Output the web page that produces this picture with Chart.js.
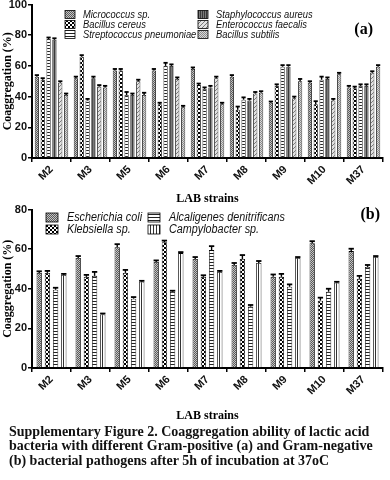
<!DOCTYPE html>
<html>
<head>
<meta charset="utf-8">
<script src="https://cdn.jsdelivr.net/npm/chart.js@4.4.1/dist/chart.umd.min.js"></script>
<style>
  body { margin: 0; background: #fff; }
  #wrap { position: relative; width: 390px; height: 480px; overflow: hidden; }
  .box { position: absolute; left: 0; width: 390px; }
  #boxA { top: -2px; height: 210px; }
  #boxB { top: 203px; height: 222px; }
  #caption {
    position: absolute; left: 9px; top: 425px; width: 381px;
    font: bold 14px "Liberation Serif", "Times New Roman", serif;
    line-height: 14.3px; color: #111;
  }
</style>
</head>
<body>
<div id="wrap">
  <div class="box" id="boxA"><canvas id="chartA"></canvas></div>
  <div class="box" id="boxB"><canvas id="chartB"></canvas></div>
  <div id="caption">Supplementary Figure 2. Coaggregation ability of lactic acid bacteria with different Gram-positive (a) and Gram-negative (b) bacterial pathogens after 5h of incubation at 37oC</div>
</div>
<script>
// LAB strains on the x axis (both panels)
const strains = ['M2', 'M3', 'M5', 'M6', 'M7', 'M8', 'M9', 'M10', 'M37'];

// (a) Gram-positive pathogens, coaggregation %
const micrococcus = [53, 52, 57, 57, 58, 53, 36, 49, 46];
const bacillusCereus = [51, 66, 57, 35, 47.5, 31.5, 47, 35, 45.5];
const streptococcus = [77.5, 37.5, 41, 60, 45, 38, 59.5, 51, 47];
const staphylococcus = [77, 52, 41, 60, 46, 37.5, 59.5, 51.5, 47];
const enterococcus = [49, 46.5, 50, 51.5, 52, 42, 39, 37.5, 55.5];
const bacillusSubtilis = [41, 46, 41, 33, 35, 42.5, 50, 54.5, 59.5];

const micrococcusErr = [1, 1, 1, 1, 1, 1, 0.8, 1, 1];
const bacillusCereusErr = [1, 1, 1, 1, 1, 2, 1, 2, 1];
const streptococcusErr = [1, 1, 2, 2, 1, 1.5, 1, 2, 1];
const staphylococcusErr = [1, 1, 1, 1, 1, 1, 1, 1, 1];
const enterococcusErr = [1, 1, 1, 1, 1, 1, 1, 1, 1];
const bacillusSubtilisErr = [1, 1, 1.5, 1, 1, 1, 1.5, 1, 1];

// (b) Gram-negative pathogens, coaggregation %
const ecoli = [48, 55.5, 61, 53.5, 55, 52, 46, 63, 59];
const klebsiella = [48, 46, 48, 63.5, 46, 55, 46, 34, 45];
const alcaligenes = [39.5, 46.5, 35, 38.5, 59.5, 31, 41, 38.5, 51];
const campylobacter = [47, 27, 43.5, 58, 48.5, 53, 55.5, 43, 56];

const ecoliErr = [0.8, 1, 1.5, 0.8, 1, 1, 1.2, 1, 1.2];
const klebsiellaErr = [1, 1, 1.5, 0.8, 0.8, 2, 1.5, 1.5, 1.5];
const alcaligenesErr = [1, 2, 0.8, 0.5, 2, 0.8, 1.2, 1.5, 1];
const campylobacterErr = [0.5, 0.5, 0.5, 0.5, 0.5, 1, 0.5, 0.5, 0.5];

const yTicksA = [0, 20, 40, 60, 80, 100];
const yTicksB = [0, 20, 40, 60, 80];

// small tiles used as bar fills
function makePattern(w, h, draw) {
    const c = document.createElement('canvas');
    c.width = w;
    c.height = h;
    const g = c.getContext('2d');
    draw(g);
    return g.createPattern(c, 'repeat');
}

const grayDots = makePattern(2, 2, g => {
    g.fillStyle = '#c4c4c4'; g.fillRect(0, 0, 2, 2);
    g.fillStyle = '#5a5a5a'; g.fillRect(0, 0, 1, 1); g.fillRect(1, 1, 1, 1);
});
const checker = makePattern(4, 4, g => {
    g.fillStyle = '#fff'; g.fillRect(0, 0, 4, 4);
    g.fillStyle = '#000'; g.fillRect(0, 0, 2, 2); g.fillRect(2, 2, 2, 2);
});
const hStripes = makePattern(1, 3, g => {
    g.fillStyle = '#fff'; g.fillRect(0, 0, 1, 3);
    g.fillStyle = '#222'; g.fillRect(0, 2, 1, 1);
});
const darkVert = makePattern(2, 1, g => {
    g.fillStyle = '#3a3a3a'; g.fillRect(0, 0, 2, 1);
    g.fillStyle = '#7a7a7a'; g.fillRect(1, 0, 1, 1);
});
const diagHatch = makePattern(4, 4, g => {
    g.fillStyle = '#e2e2e2'; g.fillRect(0, 0, 4, 4);
    g.fillStyle = '#7a7a7a';
    g.fillRect(0, 3, 1, 1); g.fillRect(1, 2, 1, 1); g.fillRect(2, 1, 1, 1); g.fillRect(3, 0, 1, 1);
});
const lightCross = makePattern(2, 2, g => {
    g.fillStyle = '#d8d8d8'; g.fillRect(0, 0, 2, 2);
    g.fillStyle = '#8c8c8c'; g.fillRect(0, 0, 1, 1); g.fillRect(1, 1, 1, 1);
});
const vStripes = makePattern(3, 1, g => {
    g.fillStyle = '#fff'; g.fillRect(0, 0, 3, 1);
    g.fillStyle = '#333'; g.fillRect(0, 0, 1, 1);
});

function ds(label, data, err, fill) {
    return {
        label: label,
        data: data,
        err: err,
        backgroundColor: fill,
        borderColor: '#000',
        borderWidth: 0.8
    };
}

// error bars (mean + SEM) drawn on top of each bar
const errorBars = {
    id: 'errorBars',
    afterDatasetsDraw(chart) {
        const ctx = chart.ctx;
        const y = chart.scales.y;
        ctx.save();
        ctx.strokeStyle = '#000';
        chart.data.datasets.forEach((d, i) => {
            chart.getDatasetMeta(i).data.forEach((bar, j) => {
                const top = y.getPixelForValue(d.data[j] + d.err[j]);
                const half = bar.width / 2;
                ctx.lineWidth = 1.4;
                ctx.beginPath();
                ctx.moveTo(bar.x, bar.y);
                ctx.lineTo(bar.x, top);
                ctx.stroke();
                ctx.lineWidth = 1.8;
                ctx.beginPath();
                ctx.moveTo(bar.x - half, top);
                ctx.lineTo(bar.x + half, top);
                ctx.stroke();
            });
        });
        ctx.restore();
    }
};

// legend in columns plus panel letter
const panelLegend = {
    id: 'panelLegend',
    afterDraw(chart, args, opts) {
        const ctx = chart.ctx;
        const area = chart.chartArea;
        const sets = chart.data.datasets;
        ctx.save();
        ctx.font = 'italic ' + opts.fontSize + 'px "Liberation Sans", Arial, sans-serif';
        ctx.textBaseline = 'middle';
        sets.forEach((d, i) => {
            const col = Math.floor(i / opts.rows);
            const row = i % opts.rows;
            const x = area.left + opts.x + col * opts.colGap;
            const yy = area.top + opts.y + row * opts.rowGap;
            ctx.fillStyle = d.backgroundColor;
            ctx.fillRect(x, yy - opts.boxH / 2, opts.boxW, opts.boxH);
            ctx.strokeStyle = '#000';
            ctx.lineWidth = 0.8;
            ctx.strokeRect(x, yy - opts.boxH / 2, opts.boxW, opts.boxH);
            ctx.fillStyle = '#111';
            // the legend text is slightly condensed in the original
            ctx.save();
            ctx.translate(x + opts.boxW + opts.textGap, yy);
            ctx.scale(opts.squeeze, 1);
            ctx.fillText(d.label, 0, 0);
            ctx.restore();
        });
        ctx.font = 'bold 16px "Liberation Serif", "Times New Roman", serif';
        ctx.textAlign = 'right';
        ctx.fillStyle = '#000';
        ctx.fillText(opts.tag, area.right - opts.tagX, area.top + opts.tagY);
        ctx.restore();
    }
};

function makeOptions(max, ticks, barPct, catPct, legendOpts, xHeight) {
    return {
        responsive: true,
        maintainAspectRatio: false,
        animation: false,
        layout: { padding: { left: 0, right: 7, top: 4, bottom: 0 } },
        plugins: {
            legend: { display: false },
            tooltip: { enabled: false },
            panelLegend: legendOpts
        },
        datasets: { bar: { barPercentage: barPct, categoryPercentage: catPct } },
        scales: {
            x: {
                grid: { display: true, drawOnChartArea: false, drawTicks: true, tickLength: 4, color: '#000', lineWidth: 1.5 },
                border: { display: true, color: '#000', width: 2 },
                ticks: {
                    color: '#111',
                    minRotation: 45,
                    maxRotation: 45,
                    padding: 1,
                    font: { family: '"Liberation Sans", Arial, sans-serif', size: 11, weight: 'bold' }
                },
                title: {
                    display: true,
                    text: 'LAB strains',
                    color: '#000',
                    padding: { top: 2, bottom: 2 },
                    font: { family: '"Liberation Serif", "Times New Roman", serif', size: 12, weight: 'bold' }
                },
                afterFit: s => { s.height = xHeight; }
            },
            y: {
                min: 0,
                max: max,
                afterBuildTicks: s => { s.ticks = ticks.map(v => ({ value: v })); },
                grid: { display: true, drawOnChartArea: false, drawTicks: true, tickLength: 4, color: '#000', lineWidth: 1.5 },
                border: { display: true, color: '#000', width: 2 },
                ticks: {
                    color: '#111',
                    padding: 1,
                    font: { family: '"Liberation Sans", Arial, sans-serif', size: 11, weight: 'bold', lineHeight: 1 }
                },
                title: {
                    display: true,
                    text: 'Coaggregation (%)',
                    color: '#000',
                    padding: { top: 1, bottom: 1 },
                    font: { family: '"Liberation Serif", "Times New Roman", serif', size: 12, weight: 'bold' }
                },
                afterFit: s => { s.width = 32; }
            }
        }
    };
}

document.addEventListener('DOMContentLoaded', function() {
    new Chart(document.getElementById('chartA'), {
        type: 'bar',
        data: {
            labels: strains,
            datasets: [
                ds('Micrococcus sp.', micrococcus, micrococcusErr, grayDots),
                ds('Bacillus cereus', bacillusCereus, bacillusCereusErr, checker),
                ds('Streptococcus pneumoniae', streptococcus, streptococcusErr, hStripes),
                ds('Staphylococcus aureus', staphylococcus, staphylococcusErr, darkVert),
                ds('Enterococcus faecalis', enterococcus, enterococcusErr, diagHatch),
                ds('Bacillus subtilis', bacillusSubtilis, bacillusSubtilisErr, lightCross)
            ]
        },
        options: makeOptions(100, yTicksA, 0.72, 0.9,
            { rows: 3, x: 33, y: 10, colGap: 133, rowGap: 10, boxW: 10, boxH: 8, textGap: 8, fontSize: 11, squeeze: 0.85, tag: '(a)', tagX: 10, tagY: 25 }, 50),
        plugins: [errorBars, panelLegend]
    });

    new Chart(document.getElementById('chartB'), {
        type: 'bar',
        data: {
            labels: strains,
            datasets: [
                ds('Escherichia coli', ecoli, ecoliErr, grayDots),
                ds('Klebsiella sp.', klebsiella, klebsiellaErr, checker),
                ds('Alcaligenes denitrificans', alcaligenes, alcaligenesErr, hStripes),
                ds('Campylobacter sp.', campylobacter, campylobacterErr, vStripes)
            ]
        },
        options: makeOptions(80, yTicksB, 0.65, 0.84,
            { rows: 2, x: 14, y: 8, colGap: 102, rowGap: 12, boxW: 12, boxH: 9, textGap: 9, fontSize: 12, squeeze: 0.9, tag: '(b)', tagX: 3, tagY: 5 }, 57),
        plugins: [errorBars, panelLegend]
    });
});
</script>
</body>
</html>
